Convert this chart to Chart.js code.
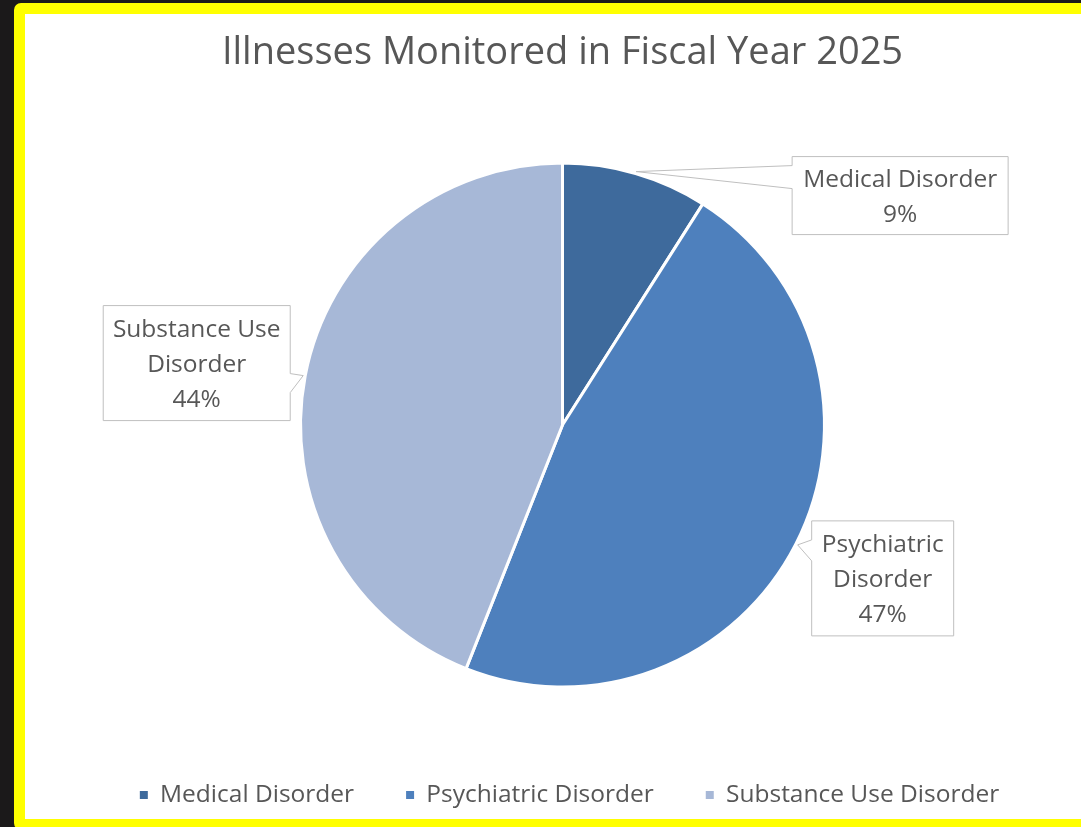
<!DOCTYPE html>
<html>
<head>
<meta charset="utf-8">
<title>Illnesses Monitored in Fiscal Year 2025</title>
<script src="https://cdn.jsdelivr.net/npm/chart.js@4.4.1/dist/chart.umd.min.js"></script>
<style>
  html, body { margin: 0; padding: 0; background: #1b191a; overflow: hidden; width: 1081px; height: 827px; }
  #frame { position: absolute; left: 14px; top: 3px; width: 1075px; height: 805px;
           border: 11px solid #ffff00; border-radius: 7px; background: #fff; }
  #frame canvas { position: absolute; left: 0; top: 0; }
</style>
</head>
<body>
<div id="frame"><canvas id="myChart" width="1075" height="805"></canvas></div>
<script>
var categories = ["Medical Disorder", "Psychiatric Disorder", "Substance Use Disorder"];
var shares = [9, 47, 44];
var sliceColors = ["#3e6a9c", "#4e80bd", "#a7b8d7"];

var textColor = "#575757";
var fontFamily = "'Open Sans', 'Noto Sans', sans-serif";

// callout boxes, placed relative to the tip that touches each slice
var callouts = [
  { dx: 156, dy: -15, w: 216, h: 78, side: "left", base: [9, 32] },
  { dx: 14, dy: -24, w: 142, h: 115, side: "left", base: [19, 40] },
  { dx: -200, dy: -70, w: 187, h: 115, side: "right", base: [68, 87] }
];

function wrapWords(ctx, text, maxWidth) {
  var words = text.split(" ");
  var lines = [];
  var line = "";
  words.forEach(function (w) {
    var test = line ? line + " " + w : w;
    if (line && ctx.measureText(test).width > maxWidth) {
      lines.push(line);
      line = w;
    } else {
      line = test;
    }
  });
  if (line) lines.push(line);
  return lines;
}

var calloutPlugin = {
  id: "calloutLabels",
  afterLayout: function (chart) {
    // nudge the legend row a little to the right of centre
    chart.legend.left += 7;
    chart.legend.right += 7;
  },
  afterDraw: function (chart) {
    var ctx = chart.ctx;
    var meta = chart.getDatasetMeta(0);
    var data = chart.data.datasets[0].data;
    var total = data.reduce(function (a, b) { return a + b; }, 0);
    ctx.save();
    ctx.font = "24.5px " + fontFamily;
    meta.data.forEach(function (arc, i) {
      var c = callouts[i];
      var p = arc.getProps(["x", "y", "startAngle", "endAngle", "outerRadius"], true);
      var mid = (p.startAngle + p.endAngle) / 2;
      var tipX = p.x + Math.cos(mid) * (p.outerRadius + 2);
      var tipY = p.y + Math.sin(mid) * (p.outerRadius + 2);
      var left = tipX + c.dx, top = tipY + c.dy;
      var right = left + c.w, bottom = top + c.h;

      ctx.beginPath();
      ctx.moveTo(left, top);
      ctx.lineTo(right, top);
      if (c.side === "right") {
        ctx.lineTo(right, top + c.base[0]);
        ctx.lineTo(tipX, tipY);
        ctx.lineTo(right, top + c.base[1]);
      }
      ctx.lineTo(right, bottom);
      ctx.lineTo(left, bottom);
      if (c.side === "left") {
        ctx.lineTo(left, top + c.base[1]);
        ctx.lineTo(tipX, tipY);
        ctx.lineTo(left, top + c.base[0]);
      }
      ctx.closePath();
      ctx.fillStyle = "#ffffff";
      ctx.fill();
      ctx.lineWidth = 1;
      ctx.strokeStyle = "#bfbfbf";
      ctx.stroke();

      var lines = wrapWords(ctx, chart.data.labels[i], c.w - 8);
      lines.push(Math.round(data[i] / total * 100) + "%");
      var lh = 35;
      var y0 = top + (c.h - lines.length * lh) / 2 + lh / 2 + 2;
      ctx.fillStyle = textColor;
      ctx.textAlign = "center";
      ctx.textBaseline = "middle";
      lines.forEach(function (t, k) {
        ctx.fillText(t, left + c.w / 2, y0 + k * lh);
      });
    });
    ctx.restore();
  }
};

new Chart("myChart", {
  type: "pie",
  data: {
    labels: categories,
    datasets: [{
      data: shares,
      backgroundColor: sliceColors,
      borderColor: "#ffffff",
      borderWidth: 3
    }]
  },
  options: {
    responsive: false,
    animation: false,
    layout: { padding: { bottom: 1.75 } },
    plugins: {
      tooltip: { enabled: false },
      title: {
        display: true,
        text: "Illnesses Monitored in Fiscal Year 2025",
        color: textColor,
        font: { family: fontFamily, size: 38, weight: "normal" },
        padding: { top: 16, bottom: 86 }
      },
      legend: {
        position: "bottom",
        title: { display: true, text: " ", padding: { top: 24.25, bottom: 0 }, font: { size: 12, lineHeight: 1.5 } },
        labels: {
          boxWidth: 8,
          boxHeight: 8,
          padding: 52,
          color: textColor,
          font: { family: fontFamily, size: 24.5 },
          generateLabels: function (chart) {
            var items = Chart.controllers.pie.overrides.plugins.legend.labels.generateLabels(chart);
            items.forEach(function (it) { it.lineWidth = 0; });
            return items;
          }
        }
      }
    }
  },
  plugins: [calloutPlugin]
});
</script>
</body>
</html>
